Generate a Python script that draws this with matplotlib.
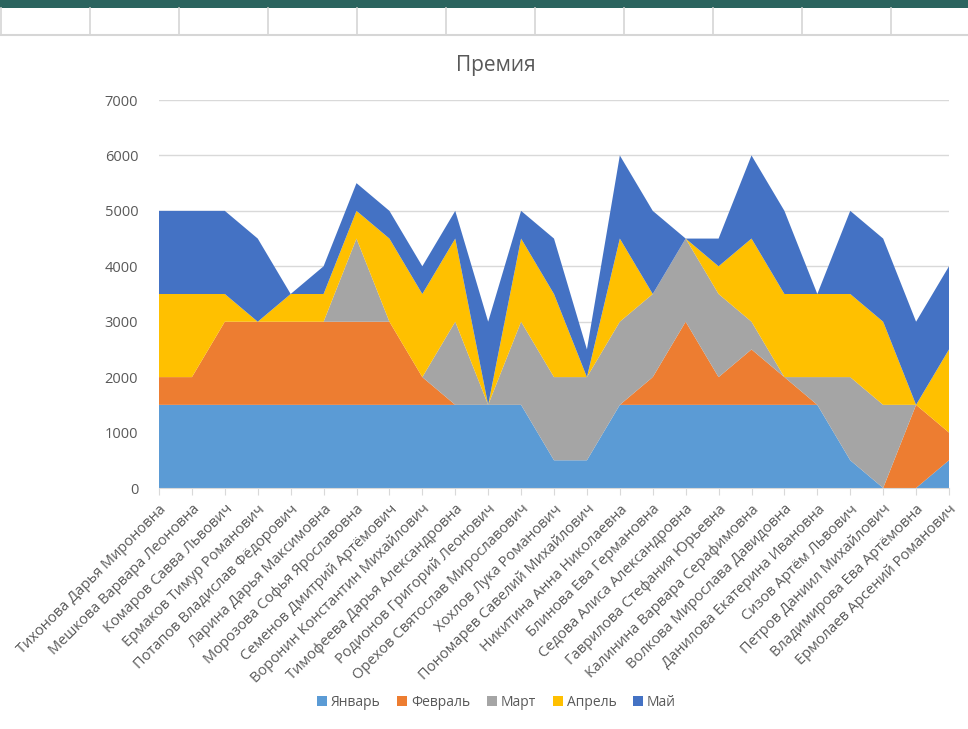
import numpy as np
import matplotlib
matplotlib.use('Agg')
import matplotlib.pyplot as plt
from matplotlib.patches import Rectangle, Patch
from matplotlib.lines import Line2D

plt.rcParams['font.family'] = ['Open Sans', 'DejaVu Sans']

names = [
    'Тихонова Дарья Мироновна', 'Мешкова Варвара Леоновна', 'Комаров Савва Львович',
    'Ермаков Тимур Романович', 'Потапов Владислав Фёдорович', 'Ларина Дарья Максимовна',
    'Морозова Софья Ярославовна', 'Семенов Дмитрий Артёмович', 'Воронин Константин Михайлович',
    'Тимофеева Дарья Александровна', 'Родионов Григорий Леонович', 'Орехов Святослав Мирославович',
    'Хохлов Лука Романович', 'Пономарев Савелий Михайлович', 'Никитина Анна Николаевна',
    'Блинова Ева Германовна', 'Седова Алиса Александровна', 'Гаврилова Стефания Юрьевна',
    'Калинина Варвара Серафимовна', 'Волкова Мирослава Давидовна', 'Данилова Екатерина Ивановна',
    'Сизов Артём Львович', 'Петров Даниил Михайлович', 'Владимирова Ева Артёмовна',
    'Ермолаев Арсений Романович',
]
months = ['Январь', 'Февраль', 'Март', 'Апрель', 'Май']
jan = [1500, 1500, 1500, 1500, 1500, 1500, 1500, 1500, 1500, 1500, 1500, 1500, 500,
       500, 1500, 1500, 1500, 1500, 1500, 1500, 1500, 500, 0, 0, 500]
feb = [500, 500, 1500, 1500, 1500, 1500, 1500, 1500, 500, 0, 0, 0, 0,
       0, 0, 500, 1500, 500, 1000, 500, 0, 0, 0, 1500, 500]
mar = [0, 0, 0, 0, 0, 0, 1500, 0, 0, 1500, 0, 1500, 1500,
       1500, 1500, 1500, 1500, 1500, 500, 0, 500, 1500, 1500, 0, 0]
apr = [1500, 1500, 500, 0, 500, 500, 500, 1500, 1500, 1500, 0, 1500, 1500,
       0, 1500, 0, 0, 500, 1500, 1500, 1500, 1500, 1500, 0, 1500]
may = [1500, 1500, 1500, 1500, 0, 500, 500, 500, 500, 500, 1500, 500, 1000,
       500, 1500, 1500, 0, 500, 1500, 1500, 0, 1500, 1500, 1500, 1500]
colors = ['#5B9BD5', '#ED7D31', '#A5A5A5', '#FFC000', '#4472C4']

W, H = 968, 729
fig = plt.figure(figsize=(W / 100, H / 100), dpi=100)
fig.patch.set_facecolor('white')

# spreadsheet background: header strip and cell grid
fig.add_artist(Rectangle((0, 1 - 8 / H), 1, 8 / H, transform=fig.transFigure,
                         facecolor='#2b645f', edgecolor='none'))
fig.add_artist(Line2D([0, 1], [1 - 35 / H] * 2, transform=fig.transFigure,
                      color='#d6d6d6', lw=1.5))
for cx in [1, 90, 179, 268, 357, 446, 535, 624, 713, 802, 891]:
    fig.add_artist(Line2D([cx / W] * 2, [1 - 35 / H, 1 - 8 / H], transform=fig.transFigure,
                          color='#d6d6d6', lw=1.2))

ax = fig.add_axes([159 / W, 1 - 488 / H, (949 - 159) / W, (488 - 100) / H])
x = np.arange(len(names))
ax.stackplot(x, jan, feb, mar, apr, may, colors=colors, labels=months, lw=0)

ax.set_xlim(0, len(names) - 1)
ax.set_ylim(0, 7000)
ax.set_yticks(np.arange(0, 7001, 1000))
ax.yaxis.grid(True, color='#d9d9d9', lw=1)
ax.set_axisbelow(True)
for s in ['top', 'right', 'left']:
    ax.spines[s].set_visible(False)
ax.spines['bottom'].set_color('#d9d9d9')
ax.tick_params(axis='y', length=0, pad=15, labelsize=10.5, labelcolor='#595959')
ax.tick_params(axis='x', length=5, color='#d9d9d9', pad=5)
ax.set_xticks(x)
ax.set_xticklabels(names, rotation=45, ha='right', va='top', rotation_mode='anchor',
                   fontsize=10.5, color='#595959')

fig.text(0.512, 1 - 66 / H, 'Премия', ha='center', va='center', fontsize=15, color='#595959')

handles = [Patch(facecolor=c, edgecolor='none') for c in colors]
fig.legend(handles, months, loc='center', bbox_to_anchor=(0.513, 1 - 702 / H), ncol=5,
           frameon=False, fontsize=10, labelcolor='#595959', handlelength=0.7,
           handleheight=0.7, handletextpad=0.3, columnspacing=1.2)

fig.savefig('out.png', dpi=100, facecolor='white')
